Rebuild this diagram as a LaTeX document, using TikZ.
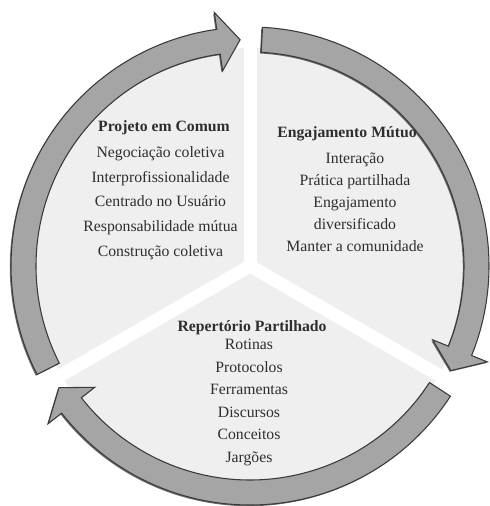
\documentclass[tikz,border=0pt]{standalone}
\usepackage{fontspec}
\setmainfont{Liberation Serif}
\usepackage{tikz}
\usetikzlibrary{positioning,shadows}
\definecolor{secgray}{HTML}{EFEFEF}
\definecolor{ringgray}{HTML}{A5A5A5}
\definecolor{edgegray}{HTML}{3A3A3A}
\definecolor{txtgray}{HTML}{2E2E2E}
\tikzstyle{sector} = [fill = secgray]
\tikzstyle{gap} = [draw = white, line width = 9.75pt]
\tikzstyle{ringarrow} = [
	fill = ringgray,
	draw = edgegray,
	line width = 0.8pt,
	drop shadow = {shadow xshift = -0.9pt, shadow yshift = -0.9pt, fill = black!70, opacity = 0.8}
]
\tikzstyle{title} = [
	anchor = base,
	inner sep = 0pt,
	text = txtgray,
	font = \bfseries\fontsize{11.8}{14}\selectfont
]
\tikzstyle{items} = [align = center, inner sep = 0pt, text = txtgray]

\begin{document}
\begin{tikzpicture}[x=0.75pt, y=0.75pt]
	\useasboundingbox (-250,-240) rectangle (239,266);
	\coordinate (c) at (0,0);
	\fill[sector] (c) circle (218);
	\draw[gap] (c) -- (90:224);
	\draw[gap] (c) -- (210:224);
	\draw[gap] (c) -- (330:224);
	
	\draw[ringarrow] (207:239) arc[start angle=207, end angle=98, radius=239] -- (98:256) -- (92.5:226.5) -- (98:197) -- (98:214) arc[start angle=98, end angle=207, radius=214] -- cycle;
	\draw[ringarrow] (87:239) arc[start angle=87, end angle=-22, radius=239] -- (-22:256) -- (-27.5:226.5) -- (-22:197) -- (-22:214) arc[start angle=-22, end angle=87, radius=214] -- cycle;
	\draw[ringarrow] (-33:239) arc[start angle=-33, end angle=-142, radius=239] -- (-142:256) -- (-147.5:226.5) -- (-142:197) -- (-142:214) arc[start angle=-142, end angle=-33, radius=214] -- cycle;
	
	\node[title] (projeto) at (-86,134) {Projeto em Comum};
	\node[items, below=8.35pt of projeto, xshift=-2.6pt, font=\fontsize{11.8}{18.4}\selectfont] (projetolist) {Negociação coletiva\\Interprofissionalidade\\Centrado no Usuário\\Responsabilidade mútua\\Construção coletiva};
	
	\node[title] (engajamento) at (97,128) {Engajamento Mútuo};
	\node[items, below=7.8pt of engajamento, xshift=6pt, font=\fontsize{11.8}{16.5}\selectfont] (engajamentolist) {Interação\\Prática partilhada\\Engajamento\\diversificado\\Manter a comunidade};
	
	\node[title] (repertorio) at (2,-65.7) {Repertório Partilhado};
	\node[items, below=2.8pt of repertorio, xshift=-2.25pt, font=\fontsize{11.8}{16.9}\selectfont] (repertoriolist) {Rotinas\\Protocolos\\Ferramentas\\Discursos\\Conceitos\\Jargões};
	
\end{tikzpicture}
\end{document}
